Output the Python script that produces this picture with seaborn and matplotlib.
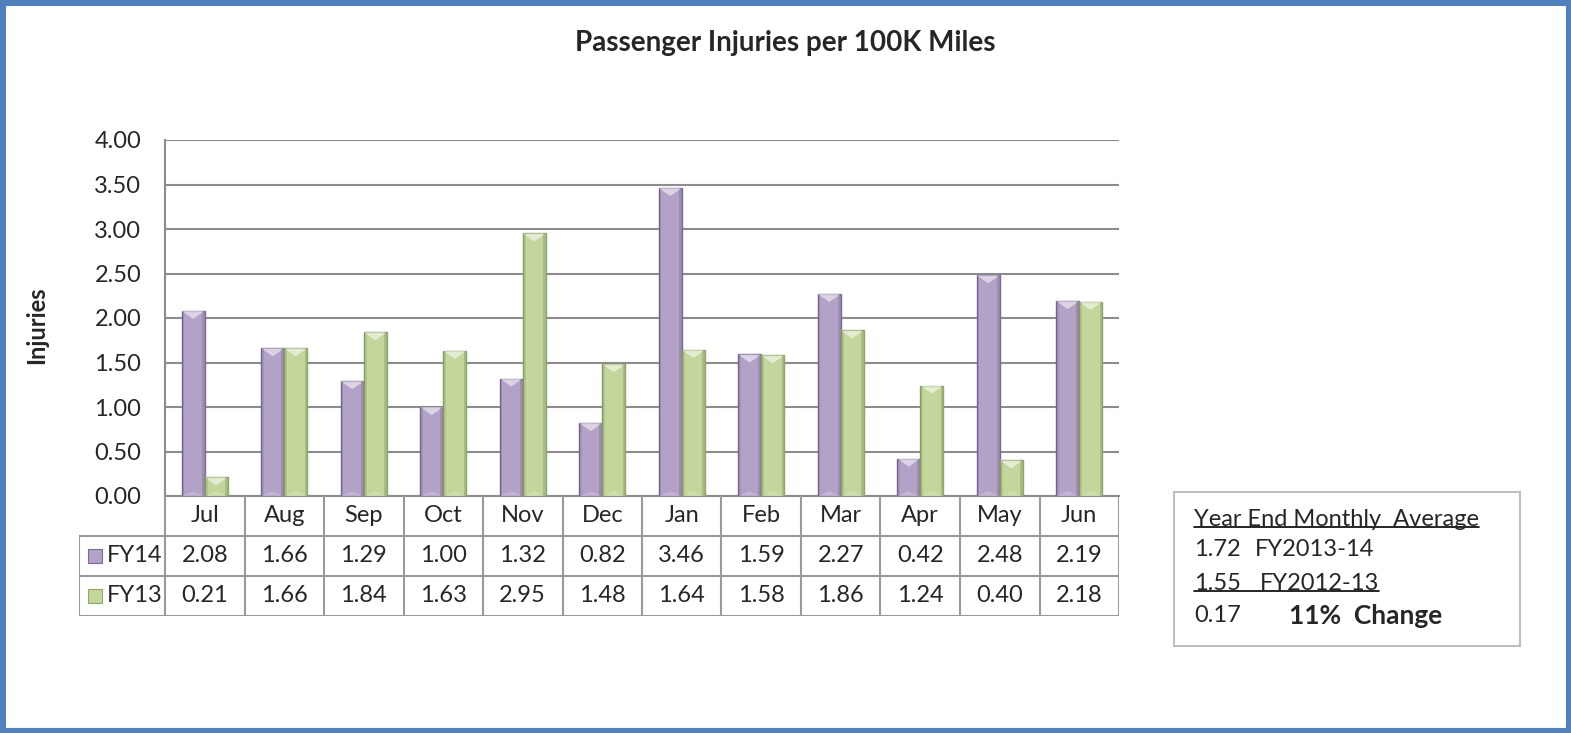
import pandas as pd
import seaborn as sns
import matplotlib.pyplot as plt
from matplotlib.patches import Rectangle, Polygon
from matplotlib.lines import Line2D

months = ['Jul', 'Aug', 'Sep', 'Oct', 'Nov', 'Dec', 'Jan', 'Feb', 'Mar', 'Apr', 'May', 'Jun']
fy14 = [2.08, 1.66, 1.29, 1.00, 1.32, 0.82, 3.46, 1.59, 2.27, 0.42, 2.48, 2.19]
fy13 = [0.21, 1.66, 1.84, 1.63, 2.95, 1.48, 1.64, 1.58, 1.86, 1.24, 0.40, 2.18]
series = ['FY14', 'FY13']
yticks = [0.0, 0.5, 1.0, 1.5, 2.0, 2.5, 3.0, 3.5, 4.0]

summary_title = 'Year End Monthly  Average'
avg14, avg13, diff = '1.72', '1.55', '0.17'
lab14, lab13 = 'FY2013-14', 'FY2012-13'
pct = '11%  Change'

W, H = 1571, 733
colors = {'FY14': '#B3A2C7', 'FY13': '#C3D69B'}
edges = {'FY14': '#7E6A9A', 'FY13': '#8FA866'}
grid_c = '#8C8C8C'
tab_c = '#9A9A9A'
fs = 17


def fx(x):
    return x / W


def fy(y):
    return 1 - y / H


sns.set_style('white')
plt.rcParams['font.family'] = ['Lato', 'DejaVu Sans']

df = pd.DataFrame({
    'month': months * 2,
    'value': fy14 + fy13,
    'fy': ['FY14'] * len(months) + ['FY13'] * len(months),
})

fig = plt.figure(figsize=(W / 100, H / 100), dpi=100)
ax = fig.add_axes([fx(165), fy(496), fx(1119) - fx(165), fy(140) - fy(496)])

sns.barplot(data=df, x='month', y='value', hue='fy', palette=colors, order=months,
            hue_order=series, width=0.58, saturation=1, legend=False, ax=ax, zorder=3)

ax.set_xlim(-0.5, len(months) - 0.5)
ax.set_ylim(0, 4)
ax.set_yticks(yticks)
ax.set_yticklabels([f'{v:.2f}' for v in yticks], fontsize=fs)
ax.tick_params(axis='y', length=0, pad=17)
ax.set_xticks([])
ax.set_xlabel('')
ax.set_ylabel('')
ax.grid(axis='y', color=grid_c, linewidth=1.5, zorder=0)
for s in ['top', 'right']:
    ax.spines[s].set_visible(False)
for s in ['left', 'bottom']:
    ax.spines[s].set_color(grid_c)
    ax.spines[s].set_linewidth(1.5)

# bevel look on each bar
dy = 8 * 4 / (fy(140) - fy(496)) / H
n = len(months)
for i, p in enumerate(ax.patches[:2 * n]):
    s = series[i // n]
    p.set_edgecolor(edges[s])
    p.set_linewidth(1.0)
    x0, w, h = p.get_x(), p.get_width(), p.get_height()
    xc = x0 + w / 2
    d = min(dy, h / 2)
    ax.add_patch(Polygon([(x0, h), (x0 + w, h), (xc, h - d)], closed=True,
                         facecolor='white', alpha=0.55, edgecolor='none', zorder=4))
    ax.add_patch(Polygon([(x0, 0), (x0 + w, 0), (xc, d * 0.6)], closed=True,
                         facecolor='white', alpha=0.2, edgecolor='none', zorder=4))
    ax.add_patch(Rectangle((x0, 0), w * 0.12, h, facecolor='black', alpha=0.08,
                           edgecolor='none', zorder=4))
    ax.add_patch(Rectangle((x0 + w * 0.88, 0), w * 0.12, h, facecolor='black', alpha=0.12,
                           edgecolor='none', zorder=4))

# data table
tab = fig.add_axes([fx(79), fy(616), fx(1119) - fx(79), fy(496) - fy(616)])
left = -0.5 - 86 / 79.5
tab.set_xlim(left, n - 0.5)
tab.set_ylim(0, 3)
tab.axis('off')
for k in range(n + 1):
    tab.plot([k - 0.5, k - 0.5], [0, 3], color=tab_c, lw=1.5, solid_capstyle='butt')
for yy in [0, 1, 2]:
    tab.plot([left, n - 0.5], [yy, yy], color=tab_c, lw=1.5, solid_capstyle='butt')
tab.plot([left, left], [0, 2], color=tab_c, lw=1.5, solid_capstyle='butt')
for k, m in enumerate(months):
    tab.text(k, 2.5, m, ha='center', va='center', fontsize=fs)
    tab.text(k, 1.5, f'{fy14[k]:.2f}', ha='center', va='center', fontsize=fs)
    tab.text(k, 0.5, f'{fy13[k]:.2f}', ha='center', va='center', fontsize=fs)
for row, s in zip([1.5, 0.5], series):
    tab.scatter([left + 0.2], [row], marker='s', s=95, color=colors[s],
                edgecolor=edges[s], linewidth=0.8, clip_on=False)
    tab.text(left + 0.35, row, s, ha='left', va='center', fontsize=fs)

fig.text(fx(785), fy(43), 'Passenger Injuries per 100K Miles', ha='center', va='center',
         fontsize=20, fontweight='bold')
fig.text(fx(37), fy(325), 'Injuries', ha='center', va='center', rotation=90,
         fontsize=17, fontweight='bold')

# summary box
fig.patches.append(Rectangle((fx(1174), fy(646)), fx(1520) - fx(1174), fy(492) - fy(646),
                             transform=fig.transFigure, facecolor='white',
                             edgecolor='#BFBFBF', linewidth=1.5))
t1 = fig.text(fx(1194), fy(519), summary_title, ha='left', va='center', fontsize=17)
fig.text(fx(1194), fy(550), avg14, ha='left', va='center', fontsize=17)
fig.text(fx(1255), fy(550), lab14, ha='left', va='center', fontsize=17)
t3a = fig.text(fx(1194), fy(583), avg13, ha='left', va='center', fontsize=17)
t3b = fig.text(fx(1260), fy(583), lab13, ha='left', va='center', fontsize=17)
fig.text(fx(1194), fy(616), diff, ha='left', va='center', fontsize=17)
fig.text(fx(1289), fy(616), pct, ha='left', va='center', fontsize=19, fontweight='bold')

fig.canvas.draw()
r = fig.canvas.get_renderer()
inv = fig.transFigure.inverted()
for ta, tb in [(t1, t1), (t3a, t3b)]:
    ba = ta.get_window_extent(r).transformed(inv)
    bb = tb.get_window_extent(r).transformed(inv)
    fig.lines.append(Line2D([ba.x0, bb.x1], [ba.y0 + 0.004, ba.y0 + 0.004],
                            transform=fig.transFigure, color='black', lw=1.2))

# blue frame
fig.patches.append(Rectangle((0, 0), 1, 1, transform=fig.transFigure, facecolor='none',
                             edgecolor='#4F81BD', linewidth=8))

fig.savefig('out.png', dpi=100)
